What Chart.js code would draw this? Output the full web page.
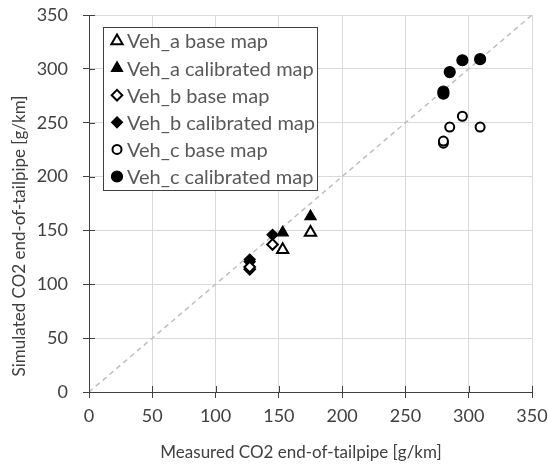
<!DOCTYPE html>
<html lang="en">
<head>
    <meta charset="UTF-8">
    <title>Simulated vs measured CO2</title>
    <script src="https://cdn.jsdelivr.net/npm/chart.js"></script>
    <style>
        html, body {
            margin: 0;
            padding: 0;
            background-color: #fff;
        }
        canvas {
            display: block;
        }
    </style>
</head>
<body>

    <canvas id="co2Chart" width="548" height="468"></canvas>

    <script>
        // End-of-tailpipe CO2 per vehicle: measured (x) vs simulated (y), g/km
        const vehA_measured = [153, 175];
        const vehA_base = [132, 148];
        const vehA_calibrated = [148, 163];

        const vehB_measured = [127, 127, 145];
        const vehB_base = [114, 116, 137];
        const vehB_calibrated = [121, 123, 146];

        const vehC_measured = [280, 280, 285, 295, 309];
        const vehC_base = [231, 233, 246, 256, 246];
        const vehC_calibrated = [277, 279, 297, 308, 309];

        // 1:1 reference line
        const parityLine = [0, 350];

        const axisTicks = [0, 50, 100, 150, 200, 250, 300, 350];

        const seriesNames = [
            'Veh_a base map',
            'Veh_a calibrated map',
            'Veh_b base map',
            'Veh_b calibrated map',
            'Veh_c base map',
            'Veh_c calibrated map'
        ];

        const xTitle = 'Measured CO2 end-of-tailpipe [g/km]';
        const yTitle = 'Simulated CO2 end-of-tailpipe [g/km]';

        const textColor = '#404040';
        const fontFamily = 'Lato, "Open Sans", sans-serif';

        function pairs(xs, ys) {
            return xs.map((x, i) => ({ x: x, y: ys[i] }));
        }

        function markerSet(label, data, style, filled, radius) {
            return {
                label: label,
                data: data,
                pointStyle: style,
                pointRadius: radius,
                pointHoverRadius: radius,
                pointBackgroundColor: filled ? '#000' : '#fff',
                pointBorderColor: '#000',
                pointBorderWidth: filled ? 1.2 : 2,
                showLine: false
            };
        }

        // Framed legend drawn inside the plot area
        const boxLegend = {
            id: 'boxLegend',
            afterDraw(chart) {
                const ctx = chart.ctx;
                const area = chart.chartArea;
                const x0 = area.left + 14;
                const y0 = area.top + 12;
                const w = 214;
                const h = 163;
                const rowGap = 27.1;

                ctx.save();
                ctx.fillStyle = '#fff';
                ctx.fillRect(x0, y0, w, h);
                ctx.strokeStyle = textColor;
                ctx.lineWidth = 1;
                ctx.strokeRect(x0 + 0.5, y0 + 0.5, w, h);

                ctx.font = '20px ' + fontFamily;
                ctx.textBaseline = 'middle';
                chart.data.datasets.forEach(ds => {
                    const row = seriesNames.indexOf(ds.label);
                    if (row < 0) return;
                    const y = y0 + 14 + row * rowGap;
                    ctx.fillStyle = ds.pointBackgroundColor;
                    ctx.strokeStyle = ds.pointBorderColor;
                    ctx.lineWidth = ds.pointBorderWidth;
                    Chart.helpers.drawPoint(ctx, {
                        pointStyle: ds.pointStyle,
                        radius: ds.pointRadius,
                        borderWidth: ds.pointBorderWidth,
                        rotation: 0
                    }, x0 + 14, y);
                    ctx.fillStyle = '#595959';
                    ctx.fillText(ds.label, x0 + 24, y + 1);
                });
                ctx.restore();
            }
        };

        // Tick marks that cross both axes (inner half)
        const crossTicks = {
            id: 'crossTicks',
            afterDraw(chart) {
                const { ctx, chartArea, scales } = chart;
                ctx.save();
                ctx.strokeStyle = textColor;
                ctx.lineWidth = 1;
                ctx.beginPath();
                scales.x.ticks.forEach((t, i) => {
                    const px = Math.round(scales.x.getPixelForTick(i)) + 0.5;
                    ctx.moveTo(px, chartArea.bottom);
                    ctx.lineTo(px, chartArea.bottom - 6);
                });
                scales.y.ticks.forEach((t, i) => {
                    const py = Math.round(scales.y.getPixelForTick(i)) + 0.5;
                    ctx.moveTo(chartArea.left, py);
                    ctx.lineTo(chartArea.left + 6, py);
                });
                ctx.stroke();
                ctx.restore();
            }
        };

        // Axis titles, placed like the spreadsheet original
        const axisTitles = {
            id: 'axisTitles',
            afterDraw(chart) {
                const ctx = chart.ctx;
                ctx.save();
                ctx.fillStyle = textColor;
                ctx.font = '17px ' + fontFamily;
                ctx.textAlign = 'center';
                ctx.textBaseline = 'middle';
                ctx.fillText(xTitle, 301, 453);
                ctx.translate(20, 236);
                ctx.rotate(-Math.PI / 2);
                ctx.fillText(yTitle, 0, 0);
                ctx.restore();
            }
        };

        // Keep the plot box fixed: no extra room for edge labels
        function noEdgePadding(scale) {
            scale.paddingTop = 0;
            scale.paddingBottom = 0;
            scale.paddingLeft = 0;
            scale.paddingRight = 0;
        }

        const ctx = document.getElementById('co2Chart').getContext('2d');

        new Chart(ctx, {
            type: 'scatter',
            data: {
                datasets: [
                    markerSet(seriesNames[0], pairs(vehA_measured, vehA_base), 'triangle', false, 6.5),
                    markerSet(seriesNames[1], pairs(vehA_measured, vehA_calibrated), 'triangle', true, 6.5),
                    markerSet(seriesNames[2], pairs(vehB_measured, vehB_base), 'rectRot', false, 5.3),
                    markerSet(seriesNames[3], pairs(vehB_measured, vehB_calibrated), 'rectRot', true, 5.5),
                    markerSet(seriesNames[4], pairs(vehC_measured, vehC_base), 'circle', false, 4.5),
                    markerSet(seriesNames[5], pairs(vehC_measured, vehC_calibrated), 'circle', true, 5.5),
                    {
                        label: '1:1',
                        data: pairs(parityLine, parityLine),
                        showLine: true,
                        borderColor: '#bfbfbf',
                        borderWidth: 1.5,
                        borderDash: [5, 4],
                        pointRadius: 0,
                        pointHoverRadius: 0
                    }
                ]
            },
            options: {
                responsive: false,
                animation: false,
                layout: {
                    padding: { top: 15, right: 16, left: 0, bottom: 0 }
                },
                scales: {
                    x: {
                        type: 'linear',
                        min: 0,
                        max: 350,
                        afterBuildTicks: scale => {
                            scale.ticks = axisTicks.map(v => ({ value: v }));
                        },
                        afterFit: scale => {
                            scale.height = 76;
                            noEdgePadding(scale);
                        },
                        grid: {
                            color: '#d9d9d9',
                            tickColor: textColor,
                            tickLength: 6
                        },
                        border: {
                            color: textColor,
                            width: 1
                        },
                        ticks: {
                            color: textColor,
                            font: { family: fontFamily, size: 18 },
                            padding: 7,
                            maxRotation: 0
                        }
                    },
                    y: {
                        type: 'linear',
                        min: 0,
                        max: 350,
                        afterBuildTicks: scale => {
                            scale.ticks = axisTicks.map(v => ({ value: v }));
                        },
                        afterFit: scale => {
                            scale.width = 89;
                            noEdgePadding(scale);
                        },
                        grid: {
                            color: '#d9d9d9',
                            tickColor: textColor,
                            tickLength: 6
                        },
                        border: {
                            color: textColor,
                            width: 1
                        },
                        ticks: {
                            color: textColor,
                            font: { family: fontFamily, size: 18 },
                            padding: 15
                        }
                    }
                },
                plugins: {
                    legend: { display: false },
                    tooltip: { enabled: false }
                }
            },
            plugins: [crossTicks, boxLegend, axisTitles]
        });
    </script>
</body>
</html>
